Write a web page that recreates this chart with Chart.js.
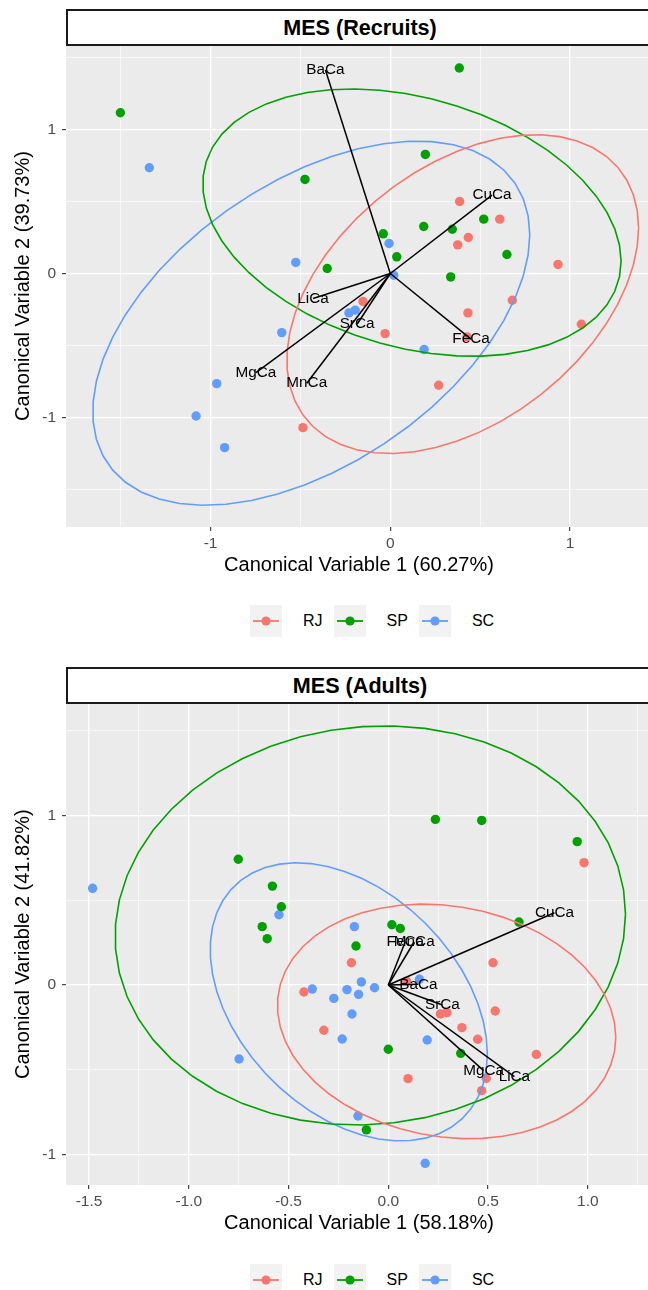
<!DOCTYPE html>
<html>
<head>
<meta charset="utf-8">
<script src="https://cdn.jsdelivr.net/npm/chart.js@4.4.1/dist/chart.umd.min.js"></script>
<style>
  body { margin: 0; width: 648px; height: 1290px; overflow: hidden; background: #fff; position: relative; font-family: "Liberation Sans", Arial, sans-serif; }
  canvas { position: absolute; left: 0; }
  .strip { position: absolute; left: 66px; width: 588px; box-sizing: border-box; border: 2px solid #1a1a1a; background: #fff; font-weight: bold; font-size: 21.6px; text-align: center; color: #000; }
  .legend { position: absolute; left: 250px; display: flex; align-items: center; height: 32px; font-size: 16px; color: #000; }
  .legend svg { display: block; margin-right: 21px; }
  .legend span { margin-right: 11px; }
</style>
</head>
<body>
<canvas id="recruitsChart" width="660" height="580" style="top:0px"></canvas>
<div class="strip" style="top:9px;height:37px;line-height:33px">MES (Recruits)</div>
<div class="legend" id="recruitsLegend" style="top:605px"></div>

<canvas id="adultsChart" width="660" height="600" style="top:640px"></canvas>
<div class="strip" style="top:667px;height:37px;line-height:33px">MES (Adults)</div>
<div class="legend" id="adultsLegend" style="top:1264px"></div>

<script>
const groupNames = ['RJ', 'SP', 'SC'];
const groupColors = ['#F8766D', '#00A000', '#619CFF'];

// MES (Recruits) - canonical scores
const recruitsRJ = [[0.386, 0.501], [0.609, 0.378], [0.434, 0.250], [0.375, 0.199], [0.933, 0.063],
    [0.679, -0.186], [0.432, -0.274], [1.063, -0.353], [-0.152, -0.195], [-0.029, -0.418],
    [0.427, -0.441], [0.269, -0.777], [-0.486, -1.072]];
const recruitsSP = [[-1.502, 1.118], [-0.475, 0.654], [-0.351, 0.035], [0.384, 1.429], [0.195, 0.828],
    [0.520, 0.378], [0.186, 0.327], [0.345, 0.308], [-0.039, 0.276], [0.036, 0.116],
    [0.649, 0.132], [0.336, -0.024]];
const recruitsSC = [[-1.341, 0.735], [-0.526, 0.077], [-0.007, 0.209], [0.019, -0.012], [-0.230, -0.274],
    [-0.195, -0.255], [0.188, -0.529], [-0.604, -0.411], [-0.966, -0.766], [-1.081, -0.991],
    [-0.922, -1.211]];
const recruitsVarNames = ['BaCa', 'CuCa', 'FeCa', 'LiCa', 'SrCa', 'MgCa', 'MnCa'];
const recruitsVarX = [-0.361, 0.566, 0.449, -0.430, -0.185, -0.748, -0.465];
const recruitsVarY = [1.415, 0.545, -0.457, -0.174, -0.353, -0.690, -0.763];
const recruitsXBreaks = [-1, 0, 1];
const recruitsXMinor = [-1.5, -0.5, 0.5];
const recruitsYBreaks = [-1, 0, 1];
const recruitsYMinor = [-1.5, -0.5, 0.5, 1.5];

// MES (Adults)
const adultsRJ = [[0.981, 0.721], [-0.185, 0.131], [0.525, 0.131], [0.092, 0.022], [-0.423, -0.041],
    [-0.323, -0.267], [0.261, -0.171], [0.294, -0.163], [0.536, -0.153], [0.369, -0.251],
    [0.448, -0.320], [0.742, -0.409], [0.099, -0.552], [0.491, -0.550], [0.468, -0.623]];
const adultsSP = [[-0.752, 0.741], [-0.581, 0.583], [-0.536, 0.461], [-0.632, 0.344], [-0.607, 0.273],
    [0.236, 0.976], [0.468, 0.970], [0.947, 0.845], [0.655, 0.371], [0.018, 0.355],
    [0.060, 0.333], [-0.162, 0.230], [0.0, -0.379], [0.363, -0.403], [-0.110, -0.854]];
const adultsSC = [[-1.482, 0.570], [-0.548, 0.414], [-0.170, 0.344], [0.156, 0.034], [-0.135, 0.018],
    [-0.069, -0.016], [-0.207, -0.027], [-0.149, -0.055], [-0.273, -0.079], [-0.182, -0.171],
    [-0.231, -0.318], [0.195, -0.324], [-0.152, -0.772], [0.185, -1.051], [-0.381, -0.024],
    [-0.748, -0.436]];
const adultsVarNames = ['CuCa', 'FeCa', 'MnCa', 'BaCa', 'SrCa', 'MgCa', 'LiCa'];
const adultsVarX = [0.833, 0.085, 0.130, 0.151, 0.271, 0.478, 0.632];
const adultsVarY = [0.426, 0.255, 0.255, 0.004, -0.118, -0.505, -0.540];
const adultsXBreaks = [-1.5, -1, -0.5, 0, 0.5, 1];
const adultsXMinor = [-1.25, -0.75, -0.25, 0.25, 0.75, 1.25];
const adultsYBreaks = [-1, 0, 1];
const adultsYMinor = [-0.5, 0.5, 1.5];

Chart.defaults.font.family = '"Liberation Sans", Arial, sans-serif';

// robust t covariance, same as MASS::cov.trob used by stat_ellipse
function covTrob(pts, nu, maxit, tol) {
    const n = pts.length, p = 2;
    let w = pts.map(() => 1);
    let loc = [pts.reduce((s, q) => s + q[0], 0) / n, pts.reduce((s, q) => s + q[1], 0) / n];
    let X = [];
    for (let iter = 0; iter < maxit; iter++) {
        const w0 = w.slice();
        X = pts.map(q => [q[0] - loc[0], q[1] - loc[1]]);
        const sw = w.reduce((s, v) => s + v, 0);
        let sxx = 0, sxy = 0, syy = 0;
        X.forEach((v, i) => { sxx += w[i] * v[0] * v[0]; sxy += w[i] * v[0] * v[1]; syy += w[i] * v[1] * v[1]; });
        sxx /= sw; sxy /= sw; syy /= sw;
        const det = sxx * syy - sxy * sxy;
        w = X.map(v => {
            const q = (syy * v[0] * v[0] - 2 * sxy * v[0] * v[1] + sxx * v[1] * v[1]) / det;
            return (nu + p) / (nu + q);
        });
        const sw2 = w.reduce((s, v) => s + v, 0);
        loc = [pts.reduce((s, q, i) => s + w[i] * q[0], 0) / sw2, pts.reduce((s, q, i) => s + w[i] * q[1], 0) / sw2];
        if (w.every((v, i) => Math.abs(v - w0[i]) < tol)) break;
    }
    let cxx = 0, cxy = 0, cyy = 0;
    X.forEach((v, i) => { cxx += w[i] * v[0] * v[0]; cxy += w[i] * v[0] * v[1]; cyy += w[i] * v[1] * v[1]; });
    return { cov: [cxx / n, cxy / n, cyy / n], center: loc };
}

// 95% ellipse outline (51 segments) from the group's points
function groupEllipse(pts) {
    const fit = covTrob(pts, 5, 25, 0.01);
    const d = pts.length - 1;
    const radius = Math.sqrt(2 * (d / 2) * (Math.pow(20, 2 / d) - 1));
    const r11 = Math.sqrt(fit.cov[0]);
    const r12 = fit.cov[1] / r11;
    const r22 = Math.sqrt(fit.cov[2] - r12 * r12);
    const out = [];
    for (let i = 0; i <= 51; i++) {
        const t = i * 2 * Math.PI / 51;
        out.push({
            x: fit.center[0] + radius * Math.cos(t) * r11,
            y: fit.center[1] + radius * (Math.cos(t) * r12 + Math.sin(t) * r22)
        });
    }
    return out;
}

function isMajor(breaks, v) {
    return breaks.some(b => Math.abs(b - v) < 1e-9);
}

function makeAxis(min, max, breaks, minor, fmt, title, fitFn, tickPad, titlePad) {
    const all = breaks.concat(minor).sort((a, b) => a - b);
    return {
        type: 'linear',
        min: min,
        max: max,
        afterBuildTicks: scale => { scale.ticks = all.map(v => ({ value: v })); },
        afterFit: fitFn,
        ticks: {
            autoSkip: false,
            maxRotation: 0,
            padding: tickPad,
            color: '#4D4D4D',
            font: { size: 15.5 },
            callback: v => isMajor(breaks, v) ? fmt(v) : ''
        },
        grid: {
            color: '#ffffff',
            lineWidth: c => (c.tick && isMajor(breaks, c.tick.value)) ? 1.3 : 0.6,
            tickColor: c => (c.tick && isMajor(breaks, c.tick.value)) ? '#333333' : 'rgba(0,0,0,0)',
            tickLength: 4,
            tickWidth: 1.1
        },
        border: { display: false },
        title: { display: true, text: title, color: '#000', font: { size: 20 }, padding: titlePad }
    };
}

const panelBackground = {
    id: 'panelBackground',
    beforeDraw(chart) {
        const a = chart.chartArea;
        chart.ctx.save();
        chart.ctx.fillStyle = '#EBEBEB';
        chart.ctx.fillRect(a.left, a.top, a.right - a.left, a.bottom - a.top);
        chart.ctx.restore();
    }
};

function makePanel(canvasId, panel) {
    const groups = [panel.rj, panel.sp, panel.sc];
    const datasets = [];
    groups.forEach((pts, g) => {
        datasets.push({
            label: groupNames[g],
            data: pts.map(q => ({ x: q[0], y: q[1] })),
            backgroundColor: groupColors[g],
            pointBackgroundColor: groupColors[g],
            pointRadius: 4.7,
            pointBorderWidth: 0,
            showLine: false,
            order: 3
        });
    });
    groups.forEach((pts, g) => {
        datasets.push({
            label: groupNames[g] + ' ellipse',
            data: groupEllipse(pts),
            borderColor: groupColors[g],
            borderWidth: 1.6,
            showLine: true,
            pointRadius: 0,
            fill: false,
            order: 2
        });
    });
    panel.varNames.forEach((name, i) => {
        datasets.push({
            label: name,
            data: [{ x: 0, y: 0 }, { x: panel.varX[i], y: panel.varY[i] }],
            borderColor: '#000',
            borderWidth: 1.5,
            showLine: true,
            pointRadius: 0,
            order: 1
        });
    });

    // variable names at the tip of each vector
    const vectorLabels = {
        id: 'vectorLabels',
        afterDatasetsDraw(chart) {
            const c = chart.ctx;
            c.save();
            c.font = '15.3px "Liberation Sans", Arial, sans-serif';
            c.fillStyle = '#000';
            c.textAlign = 'center';
            c.textBaseline = 'middle';
            panel.varNames.forEach((name, i) => {
                c.fillText(name, chart.scales.x.getPixelForValue(panel.varX[i]), chart.scales.y.getPixelForValue(panel.varY[i]));
            });
            c.restore();
        }
    };

    new Chart(document.getElementById(canvasId), {
        type: 'scatter',
        data: { datasets: datasets },
        options: {
            responsive: false,
            animation: false,
            events: [],
            layout: { padding: { top: panel.padTop, right: 8, bottom: 0, left: 0 } },
            scales: {
                x: makeAxis(panel.xMin, panel.xMax, panel.xBreaks, panel.xMinor, panel.xFmt, panel.xTitle,
                    s => { s.height = panel.xAxisHeight; }, panel.xTickPad, { top: 0, bottom: panel.xTitlePad }),
                y: makeAxis(panel.yMin, panel.yMax, panel.yBreaks, panel.yMinor, v => String(v), panel.yTitle,
                    s => { s.width = 66; }, 6, { top: 11.5, bottom: 0 })
            },
            plugins: {
                legend: { display: false },
                tooltip: { enabled: false }
            }
        },
        plugins: [panelBackground, vectorLabels]
    });
}

function makeLegend(id) {
    const box = document.getElementById(id);
    groupNames.forEach((name, g) => {
        box.insertAdjacentHTML('beforeend',
            '<svg width="32" height="32"><rect width="32" height="32" fill="#F2F2F2"/>' +
            '<line x1="3" y1="16" x2="29" y2="16" stroke="' + groupColors[g] + '" stroke-width="1.8"/>' +
            '<circle cx="16" cy="16" r="4.6" fill="' + groupColors[g] + '"/></svg>' +
            '<span>' + name + '</span>');
    });
}

makePanel('recruitsChart', {
    rj: recruitsRJ, sp: recruitsSP, sc: recruitsSC,
    varNames: recruitsVarNames, varX: recruitsVarX, varY: recruitsVarY,
    xMin: -1.8047, xMax: 1.4563, yMin: -1.763, yMax: 1.589,
    xBreaks: recruitsXBreaks, xMinor: recruitsXMinor, yBreaks: recruitsYBreaks, yMinor: recruitsYMinor,
    xFmt: v => String(v),
    xTitle: 'Canonical Variable 1 (60.27%)', yTitle: 'Canonical Variable 2 (39.73%)',
    padTop: 45, xAxisHeight: 53, xTickPad: 3.4, xTitlePad: 3
});

makePanel('adultsChart', {
    rj: adultsRJ, sp: adultsSP, sc: adultsSC,
    varNames: adultsVarNames, varX: adultsVarX, varY: adultsVarY,
    xMin: -1.6155, xMax: 1.3218, yMin: -1.1789, yMax: 1.6605,
    xBreaks: adultsXBreaks, xMinor: adultsXMinor, yBreaks: adultsYBreaks, yMinor: adultsYMinor,
    xFmt: v => v.toFixed(1),
    xTitle: 'Canonical Variable 1 (58.18%)', yTitle: 'Canonical Variable 2 (41.82%)',
    padTop: 63.3, xAxisHeight: 55, xTickPad: 3.4, xTitlePad: 5
});

makeLegend('recruitsLegend');
makeLegend('adultsLegend');
</script>
</body>
</html>
